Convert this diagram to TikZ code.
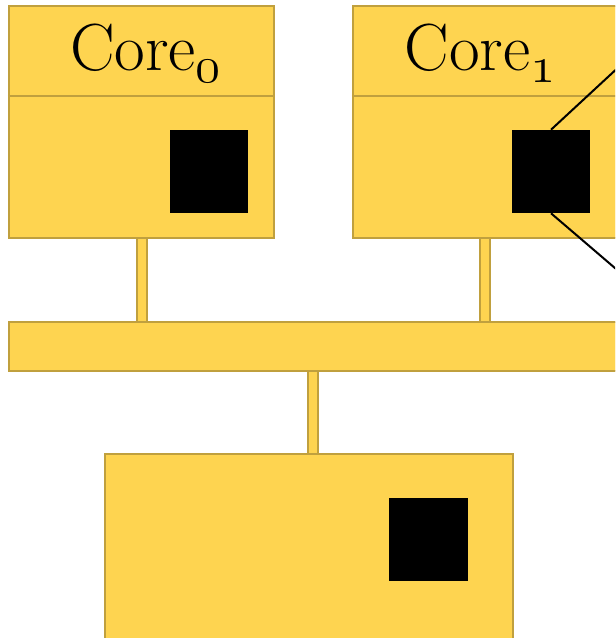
\documentclass[tikz,border=0pt]{standalone}
\usepackage{fontspec}
\usepackage{graphicx}
\definecolor{corefill}{RGB}{254,212,80}
\definecolor{coreedge}{RGB}{192,160,62}
% old-style subscript digits from the math italic font, scaled up
\newcommand{\coresub}[1]{\raisebox{-8.5pt}{\scalebox{1.85}{\fontsize{20}{20}\usefont{OML}{cmm}{m}{it}#1}}}
\tikzset{
  unit/.style={draw=coreedge, fill=corefill, line width=1.6pt, inner sep=0pt},
  cachebox/.style={fill=black, draw=none, minimum width=58.5pt, minimum height=62.25pt, inner sep=0pt},
  link/.style={draw=coreedge, line width=1.4pt, double=corefill, double distance=5.5pt},
  label/.style={font=\fontsize{50}{50}\selectfont, anchor=base, inner sep=0pt},
  wire/.style={draw=black, line width=1.5pt}
}
\begin{document}
\begin{tikzpicture}[x=0.75pt, y=-0.75pt]
\clip (0,0) rectangle (615,638);
\fill[white] (0,0) rectangle (615,638);
% cores, shared bus and memory
\node[unit, minimum width=198.75pt, minimum height=174pt] (core0) at (141.5,122) {};
\node[unit, minimum width=198.75pt, minimum height=174pt] (core1) at (485.5,122) {};
\node[unit, minimum width=473.25pt, minimum height=36.75pt] (bus) at (324.5,346.5) {};
\node[unit, minimum width=306pt, minimum height=162pt] (mem) at (309,562) {};
% links between cores, bus and memory
\coordinate (l0) at (142,0);
\coordinate (l1) at (485,0);
\coordinate (lm) at (313,0);
\draw[link] (core0.south -| l0) -- (bus.north -| l0);
\draw[link] (core1.south -| l1) -- (bus.north -| l1);
\draw[link] (bus.south -| lm) -- (mem.north -| lm);
% redraw boxes over the link ends
\node[unit, minimum width=198.75pt, minimum height=174pt] at (141.5,122) {};
\node[unit, minimum width=198.75pt, minimum height=174pt] at (485.5,122) {};
\node[unit, minimum width=473.25pt, minimum height=36.75pt] at (324.5,346.5) {};
\node[unit, minimum width=306pt, minimum height=162pt] at (309,562) {};
% header dividers
\coordinate (hd) at (0,96);
\draw[coreedge, line width=1.6pt] (core0.west |- hd) -- (core0.east |- hd);
\draw[coreedge, line width=1.6pt] (core1.west |- hd) -- (core1.east |- hd);
% titles
\node[label] (t0) at (145.5,71) {Core\coresub{0}};
\node[label] (t1) at (480,71) {Core\coresub{1}};
% caches
\node[cachebox] (c0) at (209,171.5) {};
\node[cachebox] (c1) at (551,171.5) {};
\node[cachebox, minimum width=59.25pt] (cm) at (428.5,539.5) {};
% zoom lines
\coordinate (zt) at (640,47.3);
\coordinate (zb) at (640,289.5);
\draw[wire] (c1.north) -- (zt);
\draw[wire] (c1.south) -- (zb);
\end{tikzpicture}
\end{document}
